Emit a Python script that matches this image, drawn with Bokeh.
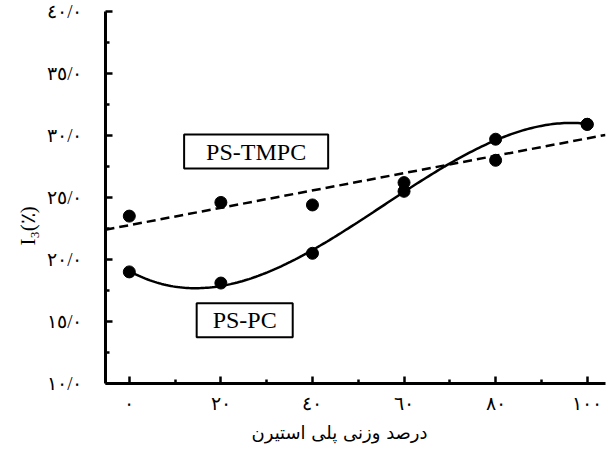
import numpy as np
from bokeh.plotting import figure
from bokeh.models import FixedTicker, Label, Range1d, Title
from bokeh.embed import file_html
from bokeh.resources import INLINE

# Polystyrene weight percent in each blend
styrene_pct = [0, 20, 40, 60, 80, 100]

# Pyrene I3 intensity ratio (%) for the two blend systems
i3_ps_tmpc = [23.5, 24.6, 24.4, 26.2, 28.0, 30.9]
i3_ps_pc = [19.0, 18.1, 20.5, 25.5, 29.7, 30.9]

# Tick values and their Persian-style labels
x_tick_values = [0, 20, 40, 60, 80, 100]
x_tick_labels = ["٠", "٢٠", "٤٠", "٦٠", "٨٠", "١٠٠"]
x_minor_ticks = [10, 30, 50, 70, 90]
y_tick_values = [10, 15, 20, 25, 30, 35, 40]
y_tick_labels = ["١٠/٠", "١٥/٠", "٢٠/٠", "٢٥/٠", "٣٠/٠", "٣٥/٠", "٤٠/٠"]
y_minor_ticks = [12.5, 17.5, 22.5, 27.5, 32.5, 37.5]

x_title = "درصد وزنی پلی استیرن"
y_title = "I₃(٪)"

SERIF = "Liberation Serif"
ARABIC = "DejaVu Sans"

p = figure(
    width=608, height=450,
    x_range=Range1d(-5.2, 104), y_range=Range1d(10, 40),
    output_backend="svg", toolbar_location=None,
    min_border_left=105, min_border_right=3,
    min_border_top=11, min_border_bottom=67,
)
p.outline_line_color = None
p.grid.visible = False
p.background_fill_color = "white"
p.border_fill_color = "white"

# Axes: ticks point inward, thick black lines
for ax in (p.xaxis[0], p.yaxis[0]):
    ax.axis_line_width = 3
    ax.axis_line_color = "#000000"
    ax.major_tick_line_color = "#000000"
    ax.minor_tick_line_color = "#000000"
    ax.major_tick_in = 7
    ax.major_tick_out = 0
    ax.minor_tick_in = 4
    ax.minor_tick_out = 0
    ax.major_tick_line_width = 2.5
    ax.minor_tick_line_width = 2.5
    ax.major_label_text_font = SERIF
    ax.major_label_text_font_size = "19px"
    ax.major_label_text_color = "#000000"

p.xaxis.ticker = FixedTicker(ticks=x_tick_values, minor_ticks=x_minor_ticks)
p.xaxis.major_label_overrides = {v: s for v, s in zip(x_tick_values, x_tick_labels)}
p.xaxis.major_label_standoff = 9

p.yaxis.ticker = FixedTicker(ticks=y_tick_values, minor_ticks=y_minor_ticks)
p.yaxis.major_label_overrides = {v: s for v, s in zip(y_tick_values, y_tick_labels)}
p.yaxis.major_label_standoff = 23

# Linear trend for PS-TMPC (dashed) and cubic trend for PS-PC (solid)
xs = np.array(styrene_pct, dtype=float)
lin = np.polyfit(xs, i3_ps_tmpc, 1)
x_lin = np.array([p.x_range.start, p.x_range.end])
p.line(x_lin, np.polyval(lin, x_lin), line_color="black", line_width=2.5,
       line_dash="9 5")

cub = np.polyfit(xs, i3_ps_pc, 3)
x_cub = np.linspace(0, 100, 200)
p.line(x_cub, np.polyval(cub, x_cub), line_color="black", line_width=2.5)

p.scatter(styrene_pct, i3_ps_tmpc, size=12, color="black")
p.scatter(styrene_pct, i3_ps_pc, size=12, color="black")

# Boxed series names
p.add_layout(Label(
    x=27.7, y=28.7, text="PS-TMPC", text_font=SERIF, text_font_size="24px",
    text_align="center", text_baseline="middle", text_color="black",
    border_line_color="black", border_line_width=2,
    background_fill_color="white", padding=(22, 4),
))
p.add_layout(Label(
    x=25.2, y=15.1, text="PS-PC", text_font=SERIF, text_font_size="24px",
    text_align="center", text_baseline="middle", text_color="black",
    border_line_color="black", border_line_width=2,
    background_fill_color="white", padding=(16, 4),
))

# Axis titles as panel titles
p.add_layout(Title(
    text=y_title, align="left", offset=138, standoff=10,
    text_font=SERIF, text_font_size="21px", text_font_style="normal",
    text_color="black",
), "left")
p.add_layout(Title(
    text=x_title, align="left", offset=146, standoff=7,
    text_font=ARABIC, text_font_size="18px", text_font_style="normal",
    text_color="black",
), "below")

open("out.html", "w").write(file_html(p, INLINE))
